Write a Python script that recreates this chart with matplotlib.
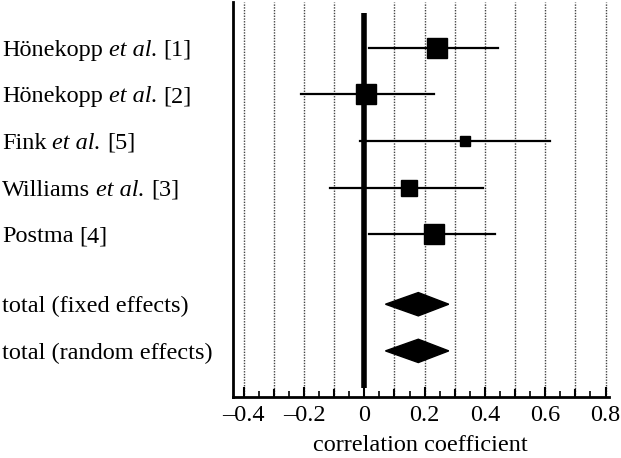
import matplotlib.pyplot as plt
from matplotlib.patches import Polygon
from matplotlib.ticker import MultipleLocator
from matplotlib.transforms import blended_transform_factory, offset_copy

plt.rcParams['font.family'] = ['Liberation Serif', 'DejaVu Serif']

# studies
study_authors = ["Hönekopp", "Hönekopp", "Fink", "Williams", "Postma"]
study_etal = [True, True, True, True, False]
study_refs = ["[1]", "[2]", "[5]", "[3]", "[4]"]
study_est = [0.24, 0.007, 0.334, 0.149, 0.232]
study_lo = [0.017, -0.21, -0.013, -0.113, 0.017]
study_hi = [0.443, 0.232, 0.616, 0.394, 0.434]
study_weight = [1.0, 1.0, 0.45, 0.75, 0.95]   # relative box size

# pooled
total_labels = ["total (fixed effects)", "total (random effects)"]
total_est = [0.179, 0.179]
total_lo = [0.07, 0.07]
total_hi = [0.28, 0.28]

study_y = [0, 1, 2, 3, 4]
total_y = [5.5, 6.5]

FS = 17.5

fig = plt.figure(figsize=(6.21, 4.58), dpi=100)
ax = fig.add_axes([0.375, 0.133, 0.605, 0.862])

ax.set_xlim(-0.436, 0.81)
ax.set_ylim(7.49, -0.97)

for v in [i / 10 for i in range(-4, 9)]:
    if v != 0:
        ax.axvline(v, color='#444444', lw=1.0, ls=(0, (1, 1)), zorder=0)

ax.plot([0, 0], [-0.73, 7.3], color='black', lw=4, solid_capstyle='butt', zorder=1)

for y, lo, hi, est, w in zip(study_y, study_lo, study_hi, study_est, study_weight):
    ax.plot([lo, hi], [y, y], color='black', lw=1.6, zorder=2)
    ax.plot(est, y, marker='s', color='black', ms=14.5 * w, zorder=3)

for y, lo, hi, est in zip(total_y, total_lo, total_hi, total_est):
    ax.add_patch(Polygon([(lo, y), (est, y - 0.25), (hi, y), (est, y + 0.25)],
                         closed=True, facecolor='black', edgecolor='black', zorder=3))

# row labels (mixed roman / italic, placed piece by piece)
trans = blended_transform_factory(fig.transFigure, ax.transData)
renderer = fig.canvas.get_renderer()
s = ax.text(0, 0, "a a", fontsize=FS)
s2 = ax.text(0, 0, "aa", fontsize=FS)
space_w = s.get_window_extent(renderer).width - s2.get_window_extent(renderer).width
s.remove()
s2.remove()
for y, author, etal, ref in zip(study_y, study_authors, study_etal, study_refs):
    pieces = [(author, 'normal')]
    if etal:
        pieces.append(("et al.", 'italic'))
    pieces.append((ref, 'normal'))
    dx = 0.0
    for txt, style in pieces:
        t = ax.text(0.003, y, txt, ha='left', va='center_baseline', fontsize=FS,
                    style=style, transform=offset_copy(trans, fig=fig, x=dx, y=0, units='dots'))
        dx += t.get_window_extent(renderer).width + space_w
for y, lab in zip(total_y, total_labels):
    ax.text(0.003, y, lab, transform=trans, ha='left', va='center_baseline', fontsize=FS)

ax.spines['top'].set_visible(False)
ax.spines['right'].set_visible(False)
ax.spines['left'].set_linewidth(2)
ax.spines['bottom'].set_linewidth(2)
ax.set_yticks([])
ax.xaxis.set_minor_locator(MultipleLocator(0.05))
ax.set_xticks([i / 10 for i in range(-4, 9, 2)])
ax.set_xticklabels(['\u20130.4', '\u20130.2', '0', '0.2', '0.4', '0.6', '0.8'])
ax.tick_params(axis='x', which='major', direction='in', length=7, width=1.5, labelsize=FS, pad=6)
ax.tick_params(axis='x', which='minor', direction='in', length=4, width=1.2)
# major-length ticks at the odd tenths as well
for v in [-0.3, -0.1, 0.1, 0.3, 0.5, 0.7]:
    ax.plot([v, v], [7.49, 7.49 - 0.15], color='black', lw=1.5, clip_on=False, zorder=4)
ax.set_xlabel('correlation coefficient', fontsize=FS, labelpad=6)

fig.savefig('out.png', dpi=100)
